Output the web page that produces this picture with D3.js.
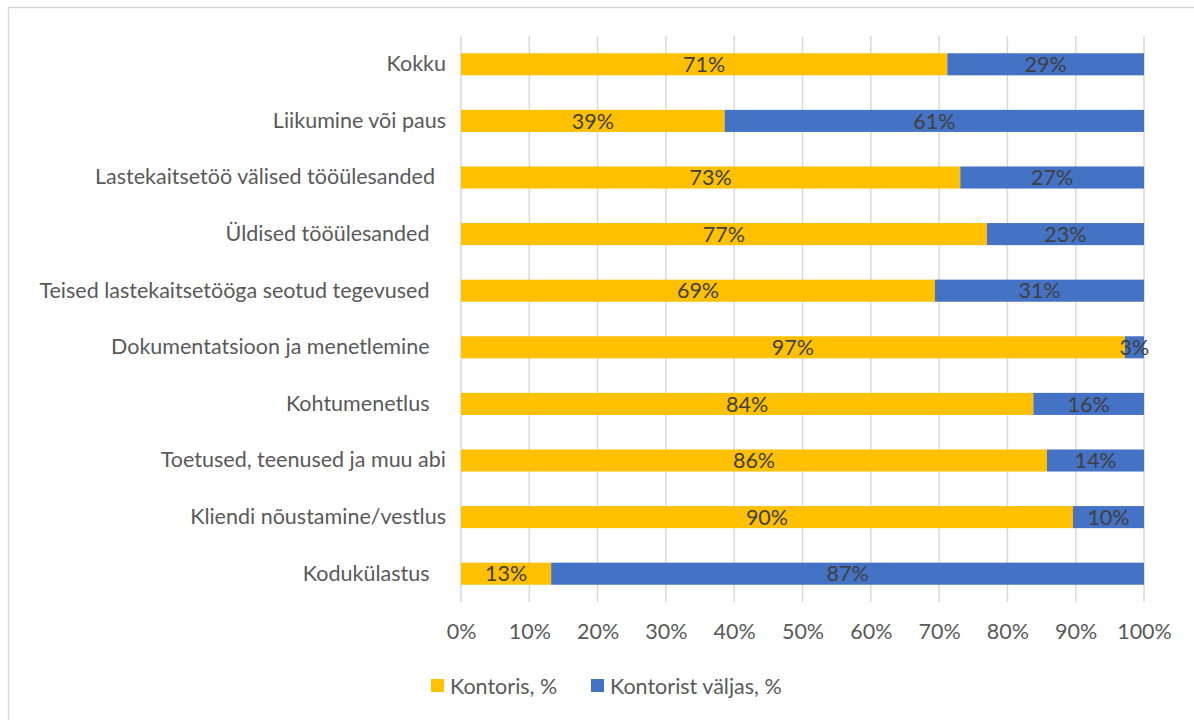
<!DOCTYPE html>
<html>
<head>
<meta charset="utf-8">
<script src="https://cdn.jsdelivr.net/npm/d3@7"></script>
<style>
  body { margin: 0; background: #fff; }
  text { font-family: Lato, "Open Sans", sans-serif; white-space: pre; }
</style>
</head>
<body>
<script>
// categories top to bottom (trailing spaces as in the source labels)
var categories = ["Kokku", "Liikumine või paus", "Lastekaitsetöö välised tööülesanded  ",
    "Üldised tööülesanded   ", "Teised lastekaitsetööga seotud tegevused   ",
    "Dokumentatsioon ja menetlemine   ", "Kohtumenetlus   ", "Toetused, teenused ja muu abi",
    "Kliendi nõustamine/vestlus", "Kodukülastus   "];
var seriesNames = ["Kontoris, %", "Kontorist väljas, %"];
var kontoris = [71.2, 38.6, 73.1, 77.0, 69.4, 97.2, 83.8, 85.8, 89.6, 13.2];
var valjas = [28.8, 61.4, 26.9, 23.0, 30.6, 2.8, 16.2, 14.2, 10.4, 86.8];
var ticks = [0, 10, 20, 30, 40, 50, 60, 70, 80, 90, 100];
var colors = ["#ffc000", "#4472c4"];

var W = 1194, H = 720;
var plot = { left: 461, right: 1144, top: 36, bottom: 602 };
var fontSize = 21.5;

var svg = d3.select("body").append("svg")
    .attr("width", W)
    .attr("height", H);

// chart border
svg.append("rect")
    .attr("x", 8.5).attr("y", 7.5)
    .attr("width", W).attr("height", H)
    .attr("fill", "none")
    .attr("stroke", "#d9d9d9")
    .attr("stroke-width", 1.5);

var xScale = d3.scaleLinear().domain([0, 100]).range([plot.left, plot.right]);
var yScale = d3.scaleBand().domain(categories)
    .range([plot.top, plot.bottom])
    .paddingInner(0.61).paddingOuter(0.305);

// gridlines
svg.append("g")
    .selectAll("line")
    .data(ticks)
    .enter().append("line")
        .attr("x1", function (d) { return xScale(d); })
        .attr("x2", function (d) { return xScale(d); })
        .attr("y1", plot.top)
        .attr("y2", plot.bottom)
        .attr("stroke", "#d9d9d9")
        .attr("stroke-width", 1.5);

// stacked data
var rows = categories.map(function (c, i) {
    return { cat: c, vals: [kontoris[i], valjas[i]] };
});

var segs = [];
rows.forEach(function (r) {
    var x0 = 0;
    r.vals.forEach(function (v, k) {
        segs.push({ cat: r.cat, k: k, x0: x0, x1: x0 + v, v: v });
        x0 += v;
    });
});

svg.append("g")
    .selectAll("rect")
    .data(segs)
    .enter().append("rect")
        .attr("x", function (d) { return xScale(d.x0); })
        .attr("y", function (d) { return yScale(d.cat); })
        .attr("width", function (d) { return xScale(d.x1) - xScale(d.x0); })
        .attr("height", yScale.bandwidth())
        .attr("fill", function (d) { return colors[d.k]; });

// value labels
svg.append("g")
    .selectAll("text")
    .data(segs)
    .enter().append("text")
        .attr("x", function (d) { return xScale((d.x0 + d.x1) / 2); })
        .attr("y", function (d) { return yScale(d.cat) + yScale.bandwidth() / 2; })
        .attr("dy", "0.36em")
        .attr("text-anchor", "middle")
        .attr("font-size", fontSize)
        .attr("fill", "#404040")
        .text(function (d) { return Math.round(d.v) + "%"; });

// category axis
var yAxis = svg.append("g")
    .attr("transform", "translate(" + (plot.left - 15) + ",0)")
    .call(d3.axisLeft(yScale).tickSize(0).tickPadding(0));
yAxis.select(".domain").remove();
yAxis.selectAll("text")
    .attr("font-size", fontSize)
    .attr("fill", "#595959")
    .attr("font-family", "Lato, 'Open Sans', sans-serif");

// value axis
var xAxis = svg.append("g")
    .attr("transform", "translate(0," + plot.bottom + ")")
    .call(d3.axisBottom(xScale).tickValues(ticks).tickSize(0).tickPadding(22)
        .tickFormat(function (d) { return d + "%"; }));
xAxis.select(".domain").remove();
xAxis.selectAll("text")
    .attr("font-size", fontSize)
    .attr("fill", "#595959")
    .attr("font-family", "Lato, 'Open Sans', sans-serif");

// legend
var legendX = [431, 591];
var legend = svg.append("g")
    .selectAll("g")
    .data(seriesNames)
    .enter().append("g")
        .attr("transform", function (d, i) { return "translate(" + legendX[i] + ",679)"; });
legend.append("rect")
    .attr("width", 13).attr("height", 13)
    .attr("fill", function (d, i) { return colors[i]; });
legend.append("text")
    .attr("x", 19)
    .attr("y", 7)
    .attr("dy", "0.36em")
    .attr("font-size", fontSize)
    .attr("fill", "#595959")
    .text(function (d) { return d; });
</script>
</body>
</html>
